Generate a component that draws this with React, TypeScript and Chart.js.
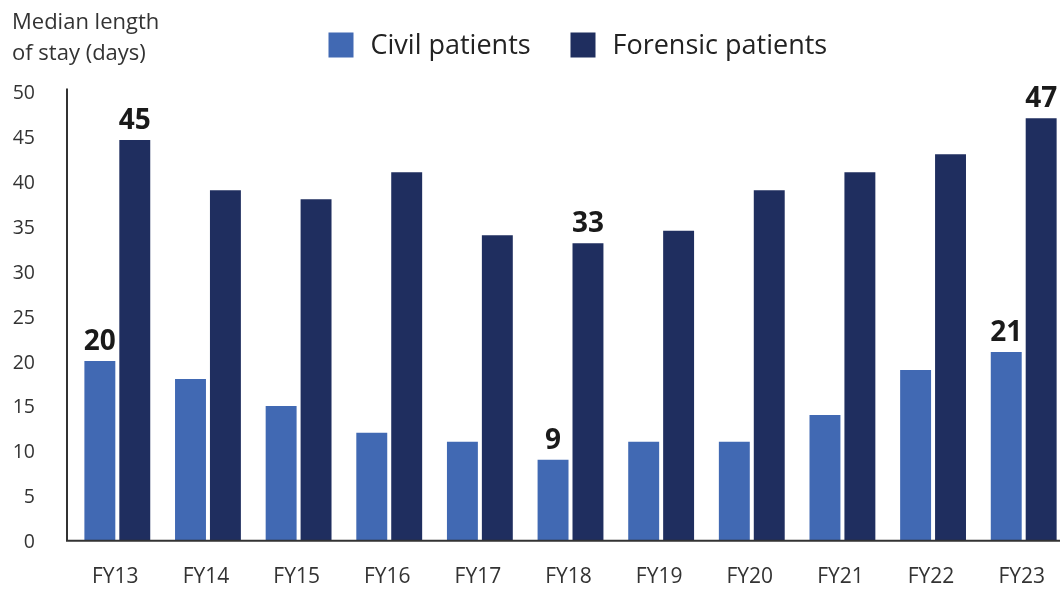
import React, { useEffect, useRef } from 'react';
import { Chart, registerables } from 'chart.js';

Chart.register(...registerables);

const categories = ['FY13', 'FY14', 'FY15', 'FY16', 'FY17', 'FY18', 'FY19', 'FY20', 'FY21', 'FY22', 'FY23'];
const civilValues = [20, 18, 15, 12, 11, 9, 11, 11, 14, 19, 21];
const forensicValues = [44.6, 39, 38, 41, 34, 33.1, 34.5, 39, 41, 43, 47];
const civilLabels = ['20', '', '', '', '', '9', '', '', '', '', '21'];
const forensicLabels = ['45', '', '', '', '', '33', '', '', '', '', '47'];
const seriesNames = ['Civil patients', 'Forensic patients'];
const seriesColors = ['#4169B3', '#1F2E5F'];
const axisTitle = ['Median length', 'of stay (days)'];
const yMin = 0;
const yMax = 50;
const yStep = 5;

const FONT = "'Open Sans', 'Noto Sans', sans-serif";

const decorPlugin = {
  id: 'decor',
  afterDatasetsDraw(chart: any) {
    const ctx = chart.ctx;
    const area = chart.chartArea;
    const labelSets = [civilLabels, forensicLabels];
    ctx.save();
    // data labels
    ctx.font = `bold 28px ${FONT}`;
    ctx.fillStyle = '#1a1a1a';
    ctx.textAlign = 'center';
    ctx.textBaseline = 'alphabetic';
    chart.data.datasets.forEach((ds: any, di: number) => {
      const meta = chart.getDatasetMeta(di);
      meta.data.forEach((bar: any, i: number) => {
        const txt = labelSets[di][i];
        if (txt) ctx.fillText(txt, bar.x, bar.y - 11);
      });
    });
    // axis lines
    const axisX = area.left - 5;
    ctx.strokeStyle = '#333333';
    ctx.lineWidth = 2;
    ctx.beginPath();
    ctx.moveTo(axisX, area.top - 3);
    ctx.lineTo(axisX, area.bottom + 1);
    ctx.moveTo(axisX - 1, area.bottom);
    ctx.lineTo(chart.width, area.bottom);
    ctx.stroke();
    // axis title
    ctx.font = `22px ${FONT}`;
    ctx.fillStyle = '#333333';
    ctx.textAlign = 'left';
    ctx.fillText(axisTitle[0], 12, 29);
    ctx.fillText(axisTitle[1], 12, 60);
    // legend
    const legendX = [328.5, 570.5];
    ctx.font = `27px ${FONT}`;
    ctx.textBaseline = 'alphabetic';
    chart.data.datasets.forEach((ds: any, di: number) => {
      ctx.fillStyle = ds.backgroundColor;
      ctx.fillRect(legendX[di], 32.5, 25, 25);
      ctx.fillStyle = '#222222';
      ctx.fillText(ds.label, legendX[di] + 42, 54);
    });
    ctx.restore();
  },
};

export default function App() {
  const canvasRef = useRef<HTMLCanvasElement | null>(null);

  useEffect(() => {
    if (!canvasRef.current) return;
    Chart.defaults.font.family = FONT;
    const chart = new Chart(canvasRef.current, {
      type: 'bar',
      data: {
        labels: categories,
        datasets: [
          {
            label: seriesNames[0],
            data: civilValues,
            backgroundColor: seriesColors[0],
            categoryPercentage: 0.7706,
            barPercentage: 0.8857,
          },
          {
            label: seriesNames[1],
            data: forensicValues,
            backgroundColor: seriesColors[1],
            categoryPercentage: 0.7706,
            barPercentage: 0.8857,
          },
        ],
      },
      options: {
        responsive: true,
        maintainAspectRatio: false,
        animation: false,
        layout: { padding: { top: 91.4, left: 0, right: 0, bottom: 0 } },
        plugins: {
          legend: { display: false },
          tooltip: { enabled: false },
          title: { display: false },
        },
        scales: {
          x: {
            grid: { display: false, drawTicks: false },
            border: { display: false },
            ticks: {
              font: { family: FONT, size: 21 },
              color: '#333333',
              padding: 24,
              labelOffset: -2,
              maxRotation: 0,
              autoSkip: false,
            },
            afterFit: (s: any) => {
              s.height = 49.3;
            },
          },
          y: {
            min: yMin,
            max: yMax,
            grid: { display: false, drawTicks: false },
            border: { display: false },
            ticks: {
              stepSize: yStep,
              font: { family: FONT, size: 19.5 },
              color: '#333333',
              padding: 37,
              labelOffset: 2,
            },
            afterFit: (s: any) => {
              s.width = 72;
            },
          },
        },
      },
      plugins: [decorPlugin],
    });
    return () => chart.destroy();
  }, []);

  return (
    <div
      style={{
        position: 'fixed',
        left: 0,
        top: 0,
        width: 1060,
        height: 590,
        overflow: 'hidden',
        background: '#ffffff',
      }}
    >
      <div style={{ position: 'relative', width: 1071, height: 590 }}>
        <canvas ref={canvasRef} />
      </div>
    </div>
  );
}
